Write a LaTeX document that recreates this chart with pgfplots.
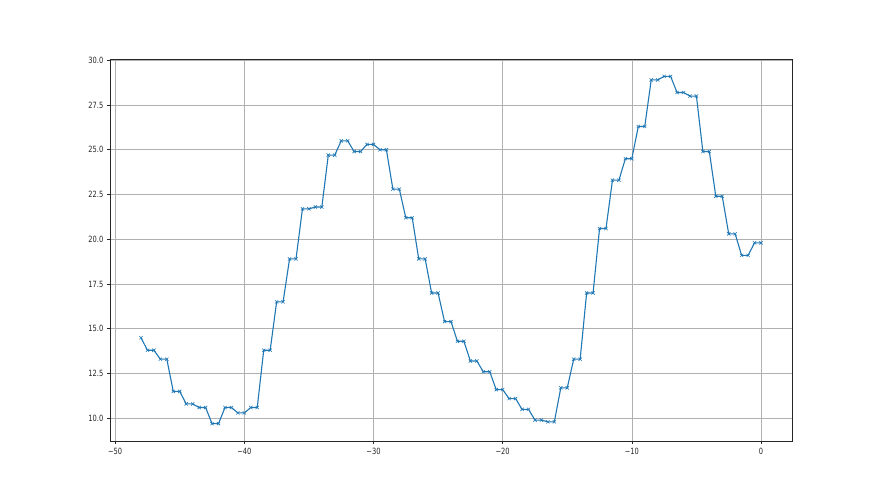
\documentclass[border=0pt]{standalone}
\usepackage{fontspec}
\setmainfont{DejaVu Sans}[FakeStretch=0.78]
\usepackage{pgfplots}
\pgfplotsset{compat=1.18}
\definecolor{mplblue}{HTML}{1F77B4}
\begin{document}
\begin{tikzpicture}
\path[use as bounding box] (-110bp,-54bp) rectangle (770bp,441bp);
\begin{axis}[
  at={(0,0)}, anchor=south west,
  scale only axis, width=682bp, height=382bp,
  xmin=-50.4, xmax=2.4, ymin=8.73, ymax=30.07,
  xtick={-50,-40,-30,-20,-10,0},
  xticklabels={−50,−40,−30,−20,−10,0},
  ytick={10,12.5,15,17.5,20,22.5,25,27.5,30},
  yticklabels={10.0,12.5,15.0,17.5,20.0,22.5,25.0,27.5,30.0},
  tick pos=left, tick align=outside,
  major tick length=2.7bp,
  tick style={black!85, line width=0.6bp},
  axis line style={black!85, line width=0.6bp},
  grid=major,
  major grid style={color=black!31, line width=0.6bp},
  ticklabel style={font=\fontsize{8.6}{10}\selectfont, text=black!85},
  xticklabel style={yshift=-1bp},
  yticklabel style={xshift=-0.5bp},
]
\addplot[color=mplblue, line width=1.1bp, mark=x, mark size=2.3bp,
  mark options={line width=0.6bp}] coordinates {
(-48,14.5)
(-47.5,13.8)(-47,13.8)
(-46.5,13.3)(-46,13.3)
(-45.5,11.5)(-45,11.5)
(-44.5,10.8)(-44,10.8)
(-43.5,10.6)(-43,10.6)
(-42.5,9.7)(-42,9.7)
(-41.5,10.6)(-41,10.6)
(-40.5,10.3)(-40,10.3)
(-39.5,10.6)(-39,10.6)
(-38.5,13.8)(-38,13.8)
(-37.5,16.5)(-37,16.5)
(-36.5,18.9)(-36,18.9)
(-35.5,21.7)(-35,21.7)
(-34.5,21.8)(-34,21.8)
(-33.5,24.7)(-33,24.7)
(-32.5,25.5)(-32,25.5)
(-31.5,24.9)(-31,24.9)
(-30.5,25.3)(-30,25.3)
(-29.5,25.0)(-29,25.0)
(-28.5,22.8)(-28,22.8)
(-27.5,21.2)(-27,21.2)
(-26.5,18.9)(-26,18.9)
(-25.5,17.0)(-25,17.0)
(-24.5,15.4)(-24,15.4)
(-23.5,14.3)(-23,14.3)
(-22.5,13.2)(-22,13.2)
(-21.5,12.6)(-21,12.6)
(-20.5,11.6)(-20,11.6)
(-19.5,11.1)(-19,11.1)
(-18.5,10.5)(-18,10.5)
(-17.5,9.9)(-17,9.9)
(-16.5,9.8)(-16,9.8)
(-15.5,11.7)(-15,11.7)
(-14.5,13.3)(-14,13.3)
(-13.5,17.0)(-13,17.0)
(-12.5,20.6)(-12,20.6)
(-11.5,23.3)(-11,23.3)
(-10.5,24.5)(-10,24.5)
(-9.5,26.3)(-9,26.3)
(-8.5,28.9)(-8,28.9)
(-7.5,29.1)(-7,29.1)
(-6.5,28.2)(-6,28.2)
(-5.5,28.0)(-5,28.0)
(-4.5,24.9)(-4,24.9)
(-3.5,22.4)(-3,22.4)
(-2.5,20.3)(-2,20.3)
(-1.5,19.1)(-1,19.1)
(-0.5,19.8)(0,19.8)
};
\end{axis}
\end{tikzpicture}
\end{document}
